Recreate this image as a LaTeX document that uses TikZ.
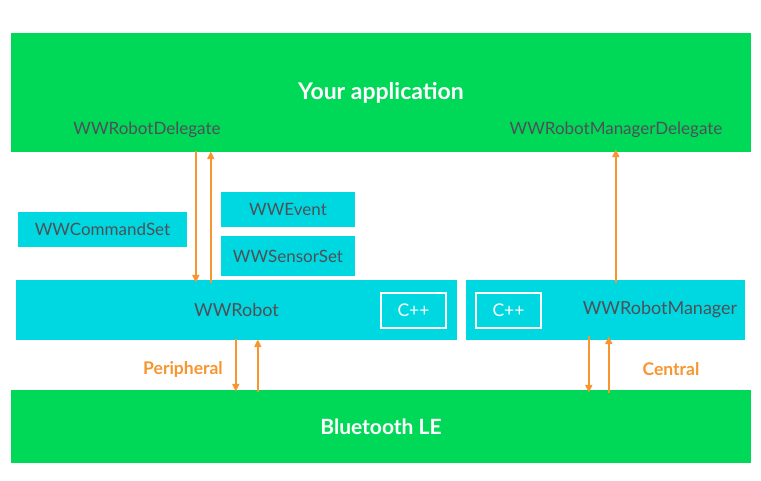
\documentclass[tikz,border=0pt]{standalone}
\usepackage{fontspec}
\setmainfont{Lato}
\usetikzlibrary{arrows.meta}

\definecolor{appgreen}{HTML}{00D957}
\definecolor{boxcyan}{HTML}{00D8E1}
\definecolor{flow}{HTML}{F7952F}
\definecolor{labelgray}{HTML}{4F5057}

\begin{document}
\begin{tikzpicture}[x=1pt,y=-1pt,
  every node/.style={inner sep=0pt},
  band/.style={fill=appgreen,minimum width=740pt,text=white,font=\bfseries\fontsize{21}{25}\selectfont},
  part/.style={fill=boxcyan,text=labelgray,font=\fontsize{18}{21}\selectfont},
  cpp/.style={draw=white,line width=1.5pt,minimum width=65pt,minimum height=35pt,text=white,font=\fontsize{17.5}{20}\selectfont},
  tag/.style={text=labelgray,font=\fontsize{17}{20}\selectfont},
  side/.style={text=flow,font=\bfseries\fontsize{17.5}{20}\selectfont},
  arrow/.style={draw=flow,line width=1.7pt,-{Triangle[width=7pt,length=8pt]}}]
\useasboundingbox (0,0) rectangle (761,481);
\node [band,minimum height=119pt,font=\bfseries\fontsize{23}{27}\selectfont] (app) at (381,92.5) {Your application};
\node [tag] (robotdel) at (147,130) {WWRobotDelegate};
\node [tag] (managerdel) at (616,130) {WWRobotManagerDelegate};
\node [band,minimum height=73pt] (ble) at (381,426.5) {Bluetooth LE};
\node [part,minimum width=441pt,minimum height=60pt] (robot) at (236.5,310) {WWRobot};
\node [cpp] (robotcpp) at (413.5,310.5) {C++};
\node [part,minimum width=279pt,minimum height=60pt] (manager) at (605.5,310) {};
\node [part] (managertext) at (660,310) {WWRobotManager};
\node [cpp] (managercpp) at (508.5,310.5) {C++};
\node [part,minimum width=169pt,minimum height=35pt,font=\fontsize{17}{20}\selectfont] (cmdset) at (102.5,229.5) {WWCommandSet};
\node [part,minimum width=134pt,minimum height=35pt,font=\fontsize{17}{20}\selectfont] (event) at (288,209.5) {WWEvent};
\node [part,minimum width=134pt,minimum height=40pt,font=\fontsize{17}{20}\selectfont] (sensors) at (288,256) {WWSensorSet};
\draw [arrow] ([xshift=185pt,yshift=1pt]app.south west) -- ([xshift=180pt,yshift=-3pt]robot.north west);
\draw [arrow] ([xshift=195pt,yshift=-3pt]robot.north west) -- ([xshift=200pt,yshift=1pt]app.south west);
\draw [arrow] ([xshift=220pt,yshift=1pt]robot.south west) -- ([xshift=225pt,yshift=-2pt]ble.north west);
\draw [arrow] ([xshift=247pt,yshift=-2pt]ble.north west) -- ([xshift=242pt,yshift=1pt]robot.south west);
\draw [arrow] ([xshift=150pt,yshift=-3pt]manager.north west) -- ([xshift=605pt,yshift=3pt]app.south west);
\draw [arrow] ([xshift=123pt,yshift=4pt]manager.south west) -- ([xshift=578pt,yshift=-3pt]ble.north west);
\draw [arrow] ([xshift=598pt,yshift=-3pt]ble.north west) -- ([xshift=143pt,yshift=4pt]manager.south west);
\node [side] (peripheral) at (183,369) {Peripheral};
\node [side] (central) at (671,369) {Central};
\end{tikzpicture}
\end{document}
